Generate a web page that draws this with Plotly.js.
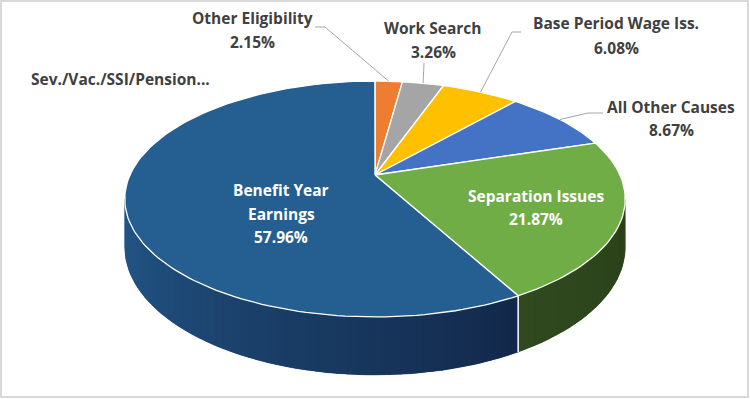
<!DOCTYPE html>
<html>
<head>
<meta charset="utf-8">
<script src="https://cdn.plot.ly/plotly-3.0.1.min.js"></script>
<style>html,body{margin:0;padding:0;background:#fff;}#chart{width:750px;height:399px;}</style>
</head>
<body>
<div id="chart"></div>
<script>
// ---- data ----
const categories = ['Other Eligibility','Work Search','Base Period Wage Iss.','All Other Causes','Separation Issues','Benefit Year Earnings','Sev./Vac./SSI/Pension...'];
const values = [2.15, 3.26, 6.08, 8.67, 21.87, 57.96, 0.01];
const pctLabels = ['2.15%','3.26%','6.08%','8.67%','21.87%','57.96%',''];

// ---- styles ----
const topColors = ['#ED7D31','#A5A5A5','#FFC000','#4472C4','#70AD47','#255E91','#9E480E'];
// side wall gradient: colour at left end -> colour at right end (screen)
const sideLeft  = ['#B35E25','#7C7C7C','#BF9000','#335699','#30491E','#23598B','#77360A'];
const sideRight = ['#8A481C','#606060','#937000','#27426F','#2A4119','#12284A','#5B2A08'];
// label placement (layout): [x, yName, yPct, inside, anchor]
const labelPos = [
  [252, 18, 42, false, 'center'],
  [433, 28, 52, false, 'center'],
  [616, 23, 48, false, 'center'],
  [671, 107, 130, false, 'center'],
  [536, 196, 219, true, 'center'],
  [281, 190, 237, true, 'center'],
  [29, 79, null, false, 'left']
];
// leader elbows (layout), null = no leader
const leaderElbows = [
  [[325,27],[315,27]],
  [[424,63]],
  [[512,32],[521,32]],
  [[588,113],[603,113]],
  null, null, null
];

// ---- geometry of the 3D pie ----
const cx = 375, cy = 175, R = 245, A = 113.1, C = 0.2034, H = 46.2;
function proj(deg, drop) {
  const t = deg * Math.PI / 180;
  const u = Math.sin(t), v = Math.cos(t), den = 1 + C * v;
  return [cx + R * u / den, cy - A * v / den + drop * H / den];
}
function arc(a0, a1, drop, n) {
  const pts = [];
  for (let k = 0; k <= n; k++) pts.push(proj(a0 + (a1 - a0) * k / n, drop));
  return pts;
}
function hexToRgb(h){return [parseInt(h.substr(1,2),16),parseInt(h.substr(3,2),16),parseInt(h.substr(5,2),16)];}
function mix(c1,c2,f){const a=hexToRgb(c1),b=hexToRgb(c2);return 'rgb('+a.map((x,i)=>Math.round(x+(b[i]-x)*f)).join(',')+')';}
function poly(pts, fill, lineColor, lineWidth){
  return {type:'scatter', mode:'lines', x: pts.map(p=>p[0]), y: pts.map(p=>p[1]),
    fill:'toself', fillcolor: fill, line:{color: lineColor, width: lineWidth}, hoverinfo:'skip', showlegend:false};
}

const total = values.reduce((s,v)=>s+v,0);
const starts = [], ends = [];
let acc = 0;
values.forEach(v => { starts.push(acc/total*360); acc += v; ends.push(acc/total*360); });

const traces = [];
const visR = Math.acos(-C) * 180 / Math.PI, visL = 360 - visR;

// side walls (drawn first)
values.forEach((v, i) => {
  const s = Math.max(starts[i], visR), e = Math.min(ends[i], visL);
  if (e <= s) return;
  // base layer
  const nb = Math.ceil((e - s) / 1.5) + 2;
  const base = arc(s, e, 0, nb).concat(arc(e, s, 1, nb));
  base.push(base[0]);
  const mid = mix(sideLeft[i], sideRight[i], 0.5);
  traces.push(poly(base, mid, mid, 0.5));
  // gradient strips (angle increases from right to left on the front wall)
  const N = Math.max(2, Math.ceil((e - s) / 2));
  for (let k = 0; k < N; k++) {
    const a0 = s + (e - s) * k / N, a1 = Math.min(e, s + (e - s) * (k + 1) / N + 0.3);
    const pts = arc(a0, a1, 0, 3).concat(arc(a1, a0, 1, 3));
    pts.push(pts[0]);
    const col = mix(sideLeft[i], sideRight[i], 1 - (k + 0.5) / N);
    traces.push(poly(pts, col, col, 0));
  }
  // seam at slice start if within visible range
  if (starts[i] > visR && starts[i] < visL) {
    const p0 = proj(starts[i], 0), p1 = proj(starts[i], 1);
    traces.push({type:'scatter', mode:'lines', x:[p0[0],p1[0]], y:[p0[1],p1[1]],
      line:{color:'#FFFFFF', width:1.5}, hoverinfo:'skip', showlegend:false});
  }
});

// top faces
values.forEach((v, i) => {
  const n = Math.max(2, Math.ceil((ends[i] - starts[i]) / 1.5));
  const pts = [[cx, cy]].concat(arc(starts[i], ends[i], 0, n));
  pts.push([cx, cy]);
  const t = poly(pts, topColors[i], '#FFFFFF', values[i] < 0.1 ? 0 : 1.3);
  t.name = categories[i];
  traces.push(t);
});

// leader lines
values.forEach((v, i) => {
  if (!leaderElbows[i]) return;
  const mid = proj((starts[i] + ends[i]) / 2, 0);
  const pts = [mid].concat(leaderElbows[i]);
  traces.push({type:'scatter', mode:'lines', x: pts.map(p=>p[0]), y: pts.map(p=>p[1]),
    line:{color:'#A6A6A6', width:1}, hoverinfo:'skip', showlegend:false});
});

// labels
const font = '"Open Sans", Lato, sans-serif';
const fsize = 15.5;
const annotations = [];
categories.forEach((c, i) => {
  const [x, yN, yP, inside, anchor] = labelPos[i];
  const color = inside ? '#FFFFFF' : '#404040';
  let nameLines = [c];
  if (c === 'Benefit Year Earnings') nameLines = ['Benefit Year', 'Earnings'];
  nameLines.forEach((ln, j) => {
    annotations.push({x: x, y: yN + j * 23.5, xref:'x', yref:'y', text: ln, showarrow:false,
      xanchor: anchor, yanchor:'middle',
      font:{family: font, size: fsize, color: color, weight: 'bold'}});
  });
  if (pctLabels[i]) {
    annotations.push({x: x, y: yP, xref:'x', yref:'y', text: pctLabels[i], showarrow:false,
      xanchor: anchor, yanchor:'middle', font:{family: font, size: fsize, color: color, weight: 'bold'}});
  }
});

const layout = {
  width: 750, height: 399, margin:{l:0,r:0,t:0,b:0},
  paper_bgcolor:'#FFFFFF', plot_bgcolor:'#FFFFFF',
  xaxis:{range:[0,750], visible:false, fixedrange:true},
  yaxis:{range:[399,0], visible:false, fixedrange:true},
  annotations: annotations,
  shapes:[{type:'rect', xref:'paper', yref:'paper', x0:0.0013, x1:0.9973, y0:0.005, y1:0.9975,
    line:{color:'#D9D9D9', width:2}}],
  hovermode:false
};
Plotly.newPlot('chart', traces, layout, {staticPlot:true, displayModeBar:false});
</script>
</body>
</html>
